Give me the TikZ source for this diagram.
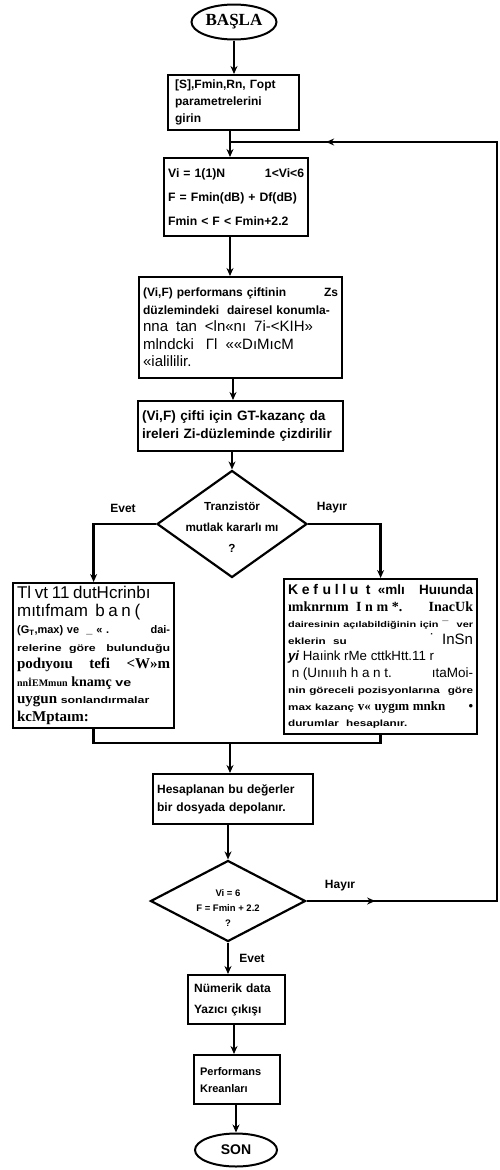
\documentclass[tikz,border=0pt]{standalone}
\usepackage{fontspec}
\setmainfont{Liberation Serif}
\newfontfamily\ar{Liberation Sans}
\newfontfamily\hw[FakeStretch=1.3]{Liberation Sans}
\usetikzlibrary{shapes.geometric,arrows.meta,calc}
\begin{document}
\begin{tikzpicture}[x=1pt,y=-1pt,
  box/.style={draw,line width=2.2pt,rectangle,inner xsep=4pt,inner ysep=1pt,align=left,anchor=north west},
  term/.style={draw,line width=2pt,ellipse,inner sep=0pt},
  dia/.style={draw,line width=2.2pt,diamond,inner sep=0pt},
  conn/.style={line width=2.4pt},
  arr/.style={line width=2.4pt,-{Stealth[length=8pt,width=7pt]}},
  lbl/.style={font=\ar\bfseries\fontsize{12}{14}\selectfont}]
\useasboundingbox (0,0) rectangle (499,1170);

% terminals
\node[term,minimum width=85pt,minimum height=35pt,font=\bfseries\fontsize{17}{19}\selectfont] (basla) at (234,22) {BAŞLA};
\node[term,minimum width=82pt,minimum height=33pt,font=\ar\bfseries\fontsize{14}{16}\selectfont] (son) at (236,1150) {SON};

% boxes
\node[box,minimum width=131pt,minimum height=55pt,text width=117pt,inner xsep=7pt,font=\ar\bfseries\fontsize{12}{17}\selectfont] (b1) at (167,74)
  {[S],Fmin,Rn, Γopt\\parametrelerini\\girin};

\node[box,minimum width=144pt,minimum height=78pt,text width=136pt,font=\ar\bfseries\fontsize{12.2}{24}\selectfont] (b2) at (163,157)
  {Vi = 1(1)N\hfill 1<Vi<6\\F = Fmin(dB) + Df(dB)\\Fmin < F < Fmin+2.2};

\node[box,minimum width=203pt,minimum height=101pt,text width=195pt,font=\fontsize{12}{17.5}\selectfont] (b3) at (138,276)
  {{\ar\bfseries (Vi,F) performans çiftinin\hfill Zs}\\
   {\ar\bfseries düzlemindeki\ \ dairesel konumla-}\\
   {\ar\fontsize{15}{17.5}\selectfont nna\ \ tan\ \ <ln«nı\ \ 7i-<KIH»}\\
   {\ar\fontsize{15}{17.5}\selectfont mlndcki\ \ \ Γl\ \ ««DıMıcM}\\
   {\ar\fontsize{15}{17.5}\selectfont «ialililir.}};

\node[box,minimum width=205pt,minimum height=50pt,text width=197pt,font=\ar\bfseries\fontsize{13.6}{18}\selectfont] (b4) at (137,400)
  {(Vi,F) çifti için GT-kazanç da\\ireleri Zi-düzleminde çizdirilir};

\node[box,minimum width=161pt,minimum height=145pt,text width=153pt,font=\fontsize{11}{17.5}\selectfont] (lb) at (12,582)
  {{\ar\fontsize{17}{17.5}\selectfont Tl vt 11 dutHcrinbı}\\
   {\ar\fontsize{17}{17.5}\selectfont mıtıfmam\ \ b a n (}\\
   {\ar\bfseries (G\textsubscript{T},max) ve\ \ \_\ «\ .\hfill dai-}\\
   {\hw\bfseries\fontsize{9.5}{12}\selectfont relerine\ \ göre\hfill bulunduğu}\\
   {\bfseries\fontsize{15}{16}\selectfont podıyoıu\hfill tefi\hfill <W»m}\\
   {\bfseries\fontsize{10}{12}\selectfont nnİEMmun} {\bfseries\fontsize{14}{15}\selectfont knamç} {\hw\bfseries ve}\\
   {\bfseries\fontsize{15}{16}\selectfont uygun} {\hw\bfseries\fontsize{9.5}{12}\selectfont sonlandırmalar}\\
   {\bfseries\fontsize{15}{16}\selectfont kcMptaım:}};

\node[box,minimum width=193pt,minimum height=155pt,text width=185pt,font=\fontsize{11}{16.5}\selectfont] (rb) at (283,578)
  {{\ar\bfseries\fontsize{14}{16}\selectfont K e f\,\,u l l u\ \ t}\ \ {\ar\bfseries\fontsize{13.5}{15}\selectfont «mlı\hfill Huıunda}\\
   {\bfseries\fontsize{14}{15}\selectfont ımknrnım\ \ I n m *.\hfill InacUk}\\
   {\hw\bfseries\fontsize{8.4}{12}\selectfont dairesinin açılabildiğinin için ¯\hfill ver}\\
   {\hw\bfseries\fontsize{9}{12}\selectfont eklerin\ \ su}\hfill{\ar\fontsize{15}{15}\selectfont ˙\ \ InSn\ }\\
   {\ar\bfseries\itshape\fontsize{13.3}{15}\selectfont yi}{\ar\fontsize{13.3}{15}\selectfont\ Haıink rMe cttkHtt.11 r}\\
   {\ar\fontsize{13.5}{15}\selectfont \ n\ (Uınıııh\ h a n t.\hfill ıtaMoi-}\\
   {\hw\bfseries\fontsize{9}{12}\selectfont nin göreceli pozisyonlarına\hfill göre}\\
   {\hw\bfseries\fontsize{9}{12}\selectfont max kazanç} {\bfseries\fontsize{13}{14}\selectfont v« uygım mnkn\hfill •}\\
   {\hw\bfseries\fontsize{9}{12}\selectfont durumlar\ \ hesaplanır.}};

\node[box,minimum width=160pt,minimum height=50pt,text width=152pt,font=\ar\bfseries\fontsize{12}{18}\selectfont] (hb) at (152,773)
  {Hesaplanan bu değerler\\bir dosyada depolanır.};

\node[box,minimum width=97pt,minimum height=49pt,text width=85pt,inner xsep=6pt,font=\ar\bfseries\fontsize{12}{21}\selectfont] (nb) at (187,974)
  {Nümerik data\\Yazıcı çıkışı};

\node[box,minimum width=86pt,minimum height=49pt,text width=74pt,inner xsep=6pt,font=\ar\bfseries\fontsize{11}{17}\selectfont] (pb) at (193,1054)
  {Performans\\Kreanları};

% decisions
\node[dia,minimum width=150pt,minimum height=107pt] (d1) at (232,524) {};
\node[align=center,inner sep=0pt,font=\ar\bfseries\fontsize{11.7}{21}\selectfont] (t1) at (232,527) {Tranzistör\\mutlak kararlı mı\\?};
\node[dia,minimum width=155pt,minimum height=81pt] (d2) at (228,901) {};
\node[align=center,inner sep=0pt,font=\ar\bfseries\fontsize{9.5}{15}\selectfont] (t2) at (228,908) {Vi = 6\\F = Fmin + 2.2\\?};

% labels
\node[lbl] (ev1) at (123,508) {Evet};
\node[lbl] (hy1) at (332,508) {Hayır};
\node[lbl] (hy2) at (340,886) {Hayır};
\node[lbl] (ev2) at (252,958) {Evet};

% coordinates
\coordinate (m) at (230,743);
\coordinate (fr) at (497,901);
\coordinate (ft) at (497,142);
\coordinate (fj) at (230,142);

% connectors
\draw[arr] (basla.south) -- (b1.north -| basla.south);
\draw[arr] (b1.south -| fj) -- (b2.north -| fj);
\draw[arr] (b2.south -| fj) -- (b3.north -| fj);
\draw[arr] (b3.south -| 233,0) -- (b4.north -| 233,0);
\draw[arr] (b4.south -| d1.north) -- (d1.north);
\draw[arr] (d1.west) -| (lb.north);
\draw[arr] (d1.east) -| (rb.north);
\draw[conn] (lb.south) |- (m);
\draw[conn] (rb.south) |- (m);
\draw[arr] (m) -- (hb.north -| m);
\draw[arr] (hb.south -| d2.north) -- (d2.north);
\draw[arr] (d2.south) -- (nb.north -| d2.south);
\draw[arr] (nb.south -| 234,0) -- (pb.north -| 234,0);
\draw[arr] (pb.south -| son.north) -- (son.north);
% feedback
\draw[conn] (d2.east) -- (fr) -- (ft) -- (fj);
\draw[arr] (d2.east) -- ($(d2.east)!0.36!(fr)$);
\draw[arr] (ft) -- ($(ft)!0.64!(fj)$);
\end{tikzpicture}
\end{document}
